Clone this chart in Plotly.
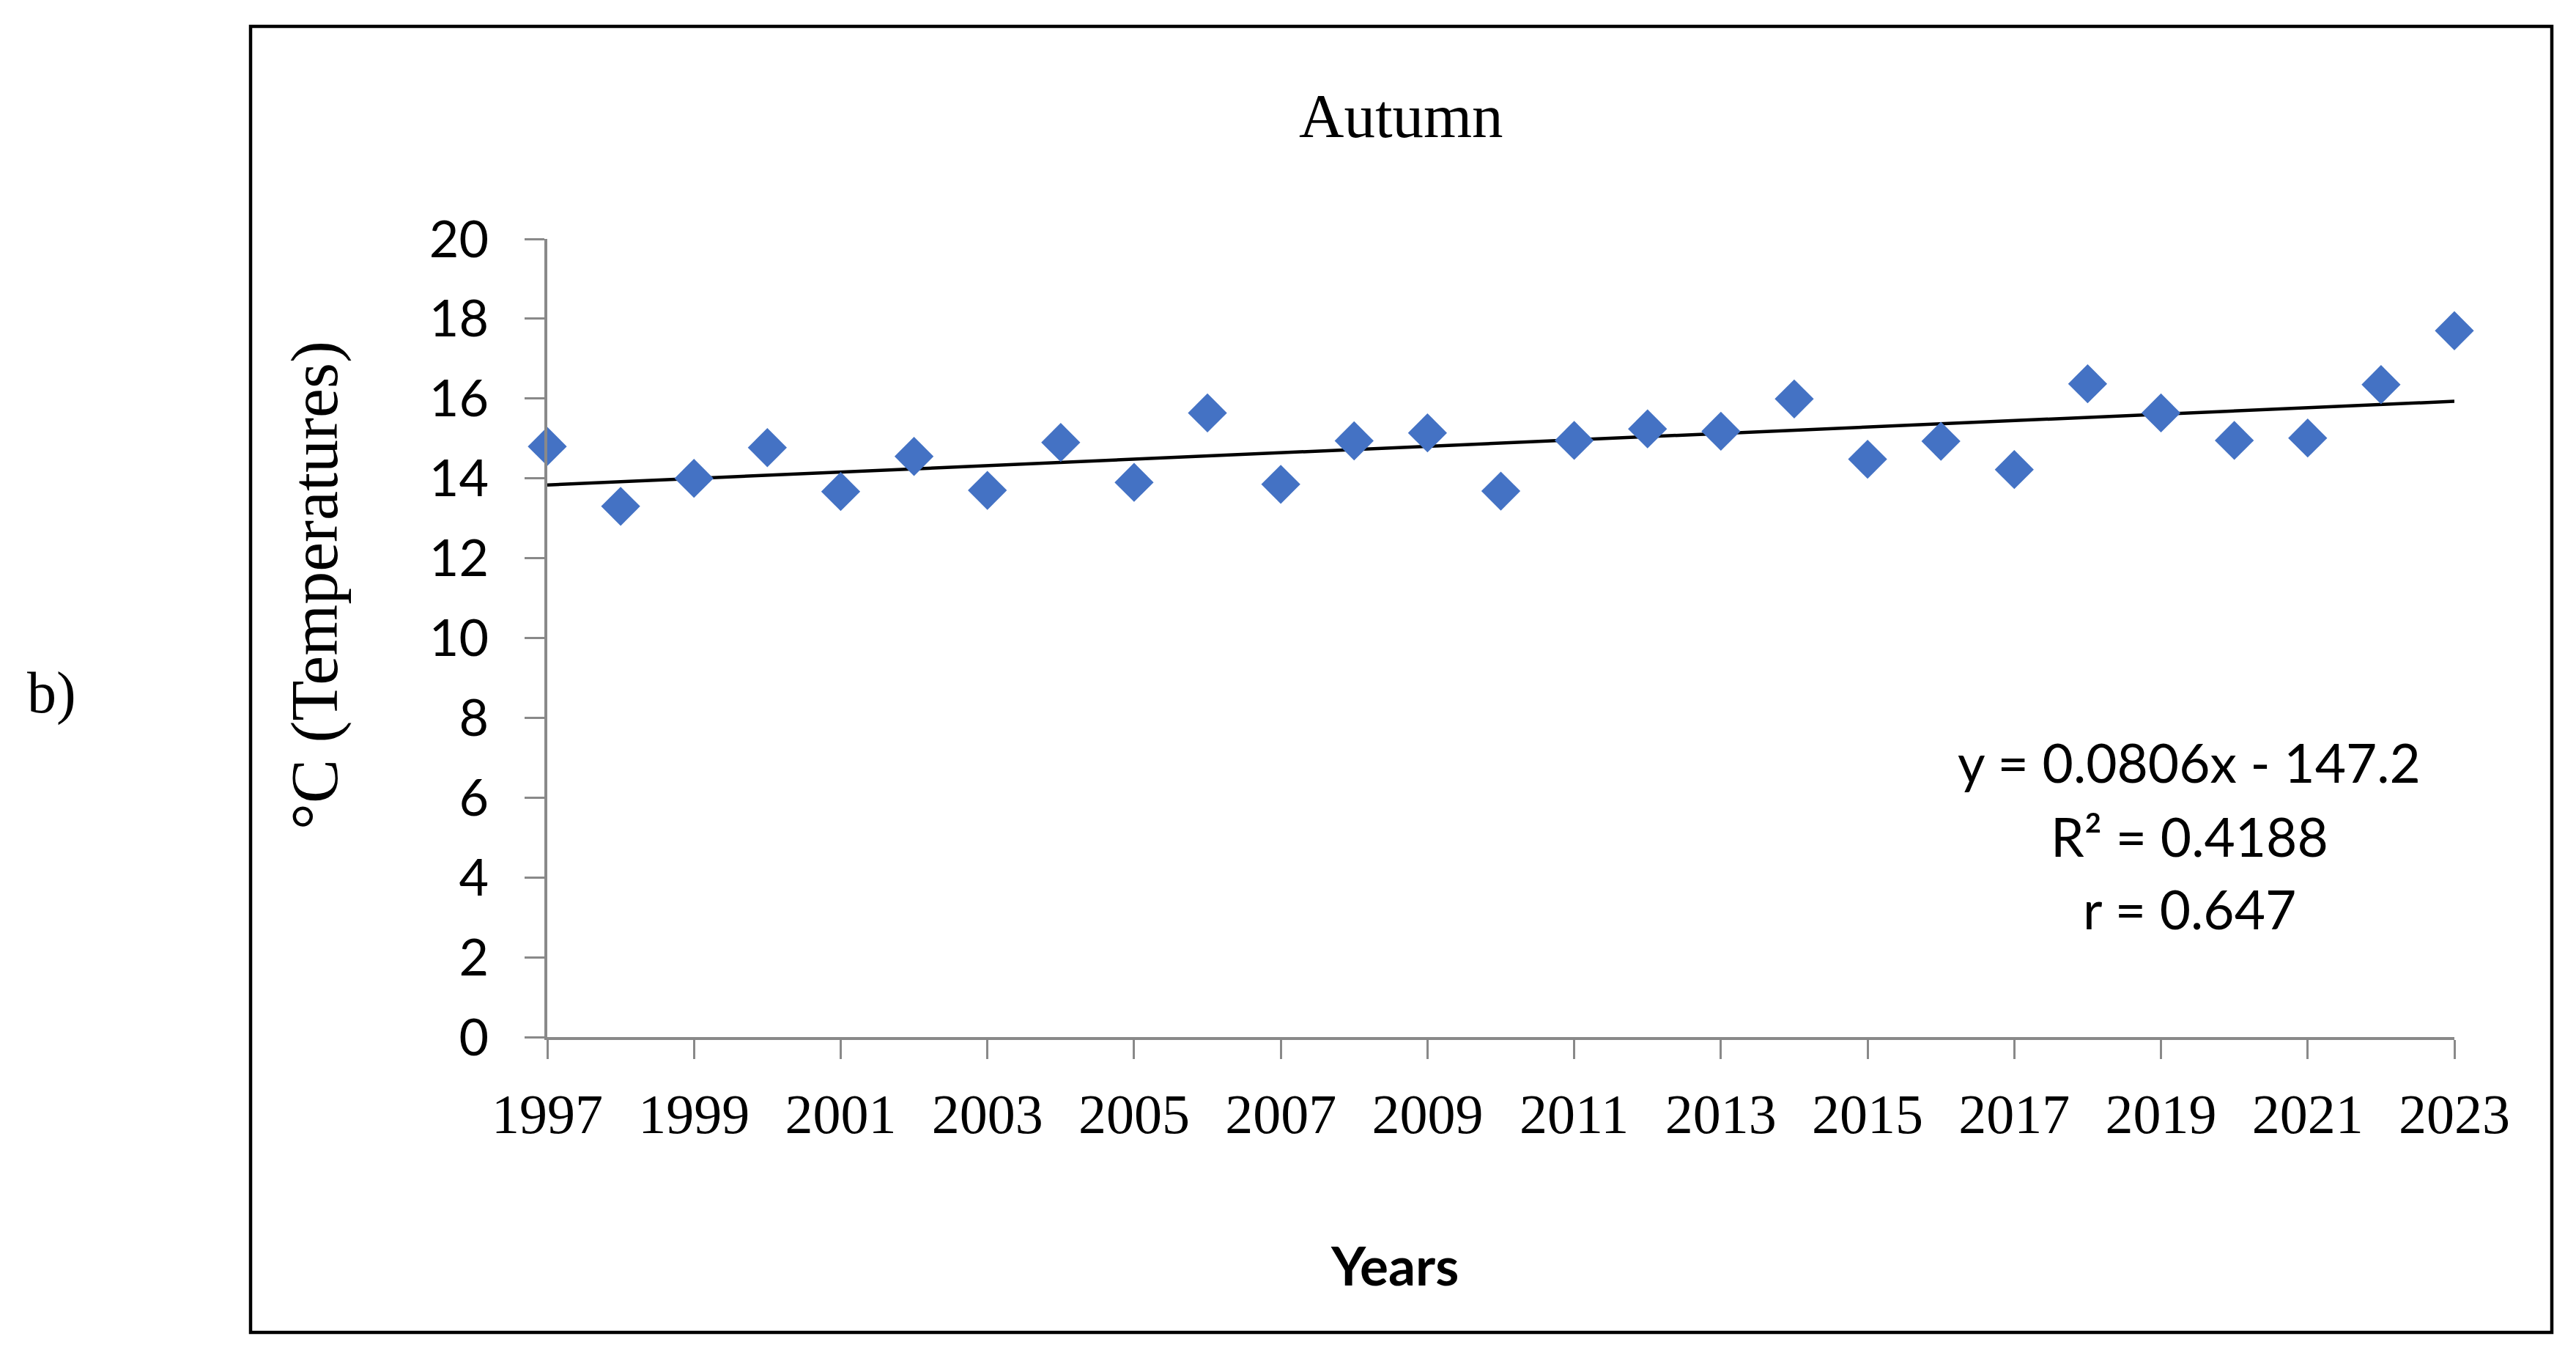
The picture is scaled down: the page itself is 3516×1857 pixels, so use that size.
import numpy as np
import plotly.graph_objects as go

years = list(range(1997, 2024))
temps = [14.8, 13.3, 14.0, 14.77, 13.67, 14.55, 13.7, 14.9, 13.9, 15.64,
         13.85, 14.94, 15.14, 13.68, 14.95, 15.24, 15.18, 15.99, 14.48, 14.93,
         14.22, 16.37, 15.64, 14.95, 15.01, 16.35, 17.7]
y_ticks = list(range(0, 21, 2))
x_ticks = list(range(1997, 2024, 2))
title_text = "Autumn"
y_title = "°C (Temperatures)"
x_title = "Years"
eq_lines = ["y = 0.0806x - 147.2", "R² = 0.4188", "r = 0.647"]
panel_label = "b)"

slope, intercept = np.polyfit(years, temps, 1)
trend_x = [years[0], years[-1]]
trend_y = [slope * x + intercept for x in trend_x]

SERIF = "Liberation Serif"
SANS = "Lato"
AX = "#898989"

fig = go.Figure()
fig.add_trace(go.Scatter(x=trend_x, y=trend_y, mode="lines",
                         line=dict(color="black", width=4.5),
                         showlegend=False, cliponaxis=False, hoverinfo="skip"))
fig.add_trace(go.Scatter(x=years, y=temps, mode="markers",
                         marker=dict(symbol="diamond", size=41, color="#4472C4",
                                     line=dict(width=0)),
                         showlegend=False, cliponaxis=False))

W, H = 3516, 1857
L, R, T, B = 747, 3350, 326, 1415
pw, ph = R - L, B - T

def px(x):
    return (x - L) / pw

def py(y):
    return (B - y) / ph

fig.update_layout(
    width=W, height=H,
    margin=dict(l=L, r=W - R, t=T, b=H - B, pad=0),
    paper_bgcolor="white", plot_bgcolor="white",
    xaxis=dict(range=[1997, 2023], tickmode="array", tickvals=x_ticks,
               ticktext=[str(v) for v in x_ticks],
               showgrid=False, zeroline=False, showline=True, linecolor=AX, linewidth=4,
               ticks="outside", ticklen=26, tickwidth=3, tickcolor=AX,
               tickfont=dict(family=SERIF, size=76, color="black"),
               ticklabelstandoff=10),
    yaxis=dict(range=[0, 20], tickmode="array", tickvals=y_ticks,
               showgrid=False, zeroline=False, showline=True, linecolor=AX, linewidth=4,
               ticks="outside", ticklen=27, tickwidth=3, tickcolor=AX,
               tickfont=dict(family=SANS, size=70, color="black"),
               ticklabelstandoff=35),
    shapes=[dict(type="rect", xref="paper", yref="paper",
                 x0=px(342), x1=px(3483), y0=py(1818), y1=py(36),
                 line=dict(color="black", width=4.5), fillcolor="rgba(0,0,0,0)",
                 layer="below")],
)

ann = [
    dict(text=title_text, x=px(1912), y=py(158), font=dict(family=SERIF, size=85, color="black")),
    dict(text=y_title, x=px(430), y=py(799), textangle=-90,
         font=dict(family=SERIF, size=90, color="black")),
    dict(text="<b>" + x_title + "</b>", x=px(1903), y=py(1726),
         font=dict(family=SANS, size=73, color="black")),
    dict(text=panel_label, x=px(70), y=py(945), font=dict(family=SERIF, size=80, color="black")),
]
for i, (t, yy) in enumerate(zip(eq_lines, [1040, 1141, 1240])):
    ann.append(dict(text=t, x=px(2988), y=py(yy), font=dict(family=SANS, size=73, color="black")))
for a in ann:
    a.update(xref="paper", yref="paper", showarrow=False, xanchor="center", yanchor="middle")
fig.update_layout(annotations=ann)

fig.write_html("out.html", config={"displayModeBar": False},
               post_script="document.body.style.margin='0';")
